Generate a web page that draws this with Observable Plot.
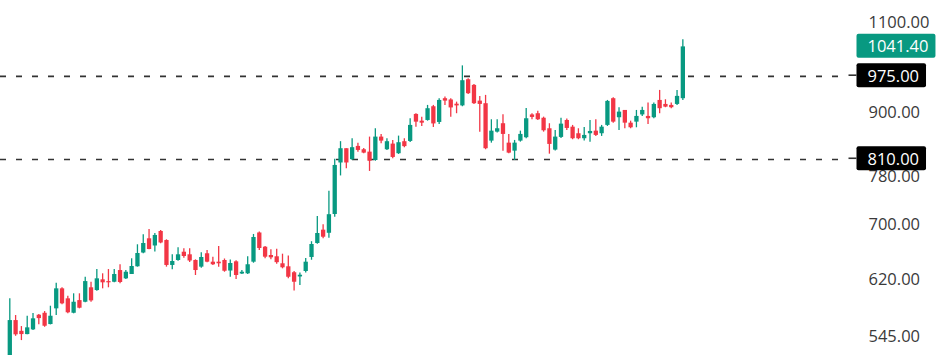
<!DOCTYPE html>
<html><head><meta charset="utf-8">
<script src="https://cdn.jsdelivr.net/npm/d3@7"></script>
<script src="https://cdn.jsdelivr.net/npm/@observablehq/plot@0.6"></script>
<style>
html,body{margin:0;padding:0;background:#fff}
#chart{width:940px;height:355px;overflow:hidden}
#chart svg{display:block}
</style>
</head><body><div id="chart"></div>
<script>
// OHLC per daily candle
const opens  = [522,565.4,552.0,548.0,553.8,572.2,574.7,560.4,580.4,606.9,593.5,574.7,591.2,589.0,608.3,604.6,619.2,616.8,615.9,632.2,620.6,626.6,637.5,657.4,678.6,667.8,689.8,676.0,639.4,646.5,658.6,654.8,646.5,637.0,656.3,644.1,644.1,646.5,631.5,644.6,627.3,627.6,644.1,687.5,666.0,653.8,651.9,641.8,637.5,629.1,623.2,630.8,650.9,671.5,691.8,687.0,716.4,803.7,829.7,809.7,834.0,827.8,823.4,808.2,851.5,827.8,838.3,820.5,842.8,843.3,895.7,882.3,883.7,911.2,879.8,927.7,925.1,916.4,912.9,967.8,955.7,922.7,917.4,843.9,861.0,877.3,840.1,825.2,843.9,850.3,894.7,897.1,888.1,867.5,827.1,850.9,883.7,870.6,857.9,848.4,857.9,862.9,857.9,874.0,927.7,889.1,903.7,878.4,880.4,894.7,891.7,889.1,924.1,915.9,913.9,915.9,927.7];
const highs  = [593.5,571.8,557.9,570.9,574.4,573.1,576.9,583.8,614.5,608.3,597.0,600.2,600.2,622.8,615.9,633.6,627.6,633.6,633.6,640.4,632.2,649.0,669.6,684.7,692.9,686.7,691.3,677.1,654.8,665.1,663.6,663.6,647.5,657.7,661.1,651.3,667.1,648.7,647.2,646.1,632.2,651.9,685.2,689.0,667.1,662.1,662.8,655.7,653.1,630.8,628.7,649.4,674.2,713.3,700.2,754.6,810.5,842.9,829.7,848.4,840.1,830.3,851.5,867.5,856.6,848.4,845.2,853.4,848.4,887.1,897.1,890.3,913.9,913.9,927.7,931.0,927.7,920.6,998.2,969.9,957.8,932.5,934.6,885.1,885.1,895.1,856.6,845.2,862.9,907.8,897.1,902.3,890.3,877.3,864.2,888.1,886.7,874.0,867.5,870.0,883.7,885.1,874.0,924.1,929.8,909.2,903.7,882.3,903.7,910.4,918.6,918.6,945.0,925.5,918.6,945.0,1058.2];
const lows   = [518,545.9,540.7,547.7,552.9,560.0,557.0,560.0,571.8,585.6,574.0,574.0,580.4,588.2,589.0,603.7,606.9,608.3,615.1,613.7,619.6,626.6,637.0,656.3,662.1,658.9,671.1,637.0,633.2,645.5,649.9,643.6,625.2,635.6,643.2,639.4,637.0,629.8,622.8,619.6,626.6,626.6,642.6,661.1,649.0,647.5,641.2,634.6,620.6,603.9,611.4,628.7,646.9,670.5,678.6,679.4,712.2,780.8,793.4,808.2,823.4,820.5,788.7,806.9,839.0,826.5,811.4,819.2,831.6,841.5,870.6,872.0,882.3,870.0,875.9,913.9,890.3,897.1,911.2,936.6,915.9,861.0,827.8,840.1,859.1,825.2,820.5,808.2,842.0,848.4,885.1,883.7,861.0,819.7,825.6,849.0,864.2,846.5,846.5,844.3,842.0,852.8,852.8,872.0,878.4,864.2,867.5,867.5,869.4,891.7,875.9,887.1,897.1,909.2,907.2,913.9,924.1];
const closes = [565.4,547.7,548.0,556.3,567.6,567.9,558.3,570.9,606.9,586.9,575.3,589.0,581.2,616.8,590.8,620.6,615.1,615.1,626.6,615.5,629.8,637.9,656.7,671.5,662.6,683.7,672.3,639.4,645.1,654.8,652.3,645.8,632.2,650.9,644.1,640.4,641.8,631.2,642.2,625.2,629.8,640.4,680.6,664.1,651.3,650.4,643.4,636.1,622.8,615.9,625.6,644.1,670.0,686.7,681.0,716.1,799.3,829.7,803.7,831.6,826.5,821.6,806.9,851.5,843.9,842.8,813.7,840.9,833.6,874.0,880.4,878.4,907.2,876.9,924.1,922.7,908.8,912.9,965.7,938.1,917.4,915.9,829.7,862.9,867.5,856.6,821.6,840.1,856.6,887.1,889.7,885.1,863.6,837.7,851.5,876.5,868.1,848.4,848.4,854.7,862.3,854.7,870.6,922.1,880.4,900.3,878.4,869.4,891.7,903.7,887.1,915.9,907.2,910.4,909.2,932.5,1041.4];

const yTicks = [545, 620, 700, 780, 900, 1100];
const levelValues = [975, 810];
const lastPrice = 1041.40;

const upColor = "#089981", downColor = "#F23645";

const candles = opens.map((o, i) => ({i, open: o, high: highs[i], low: lows[i], close: closes[i]}));
const ups = candles.filter(d => d.close >= d.open);
const downs = candles.filter(d => d.close < d.open);
const tags = [
  {value: lastPrice, bg: upColor, tick: false},
  ...levelValues.map(v => ({value: v, bg: "#000", tick: true}))
];

const chart = Plot.plot({
  width: 940, height: 355,
  marginTop: 0, marginBottom: 0, marginLeft: 0, marginRight: 92,
  style: {fontFamily: "'Open Sans', 'Noto Sans', sans-serif", fontSize: "16.5px", background: "#fff", color: "#3a3a3a", overflow: "visible"},
  x: {domain: [-1.603, 144.55], axis: null},
  y: {type: "log", domain: [523, 1155], axis: "right", ticks: yTicks, tickSize: 0, tickPadding: 20,
      tickFormat: d => d.toFixed(2), label: null},
  marks: [
    Plot.ruleY(levelValues, {stroke: "#333", strokeWidth: 1.6, strokeDasharray: "6,10"}),
    Plot.ruleX(ups,   {x: "i", y1: "low", y2: "high", stroke: upColor, strokeWidth: 1.3, clip: true}),
    Plot.ruleX(downs, {x: "i", y1: "low", y2: "high", stroke: downColor, strokeWidth: 1.3, clip: true}),
    Plot.ruleX(ups,   {x: "i", y1: "open", y2: "close", stroke: upColor, strokeWidth: 4.3, clip: true}),
    Plot.ruleX(downs, {x: "i", y1: "open", y2: "close", stroke: downColor, strokeWidth: 4.3, clip: true}),
    Plot.text(tags, {y: "value", text: d => d.value.toFixed(2), frameAnchor: "right", dx: 19,
      textAnchor: "start", fill: "#fff", fontSize: 16.5})
  ]
});
document.getElementById("chart").appendChild(chart);

// tag boxes behind the price labels
const svgNS = "http://www.w3.org/2000/svg";
const tagTexts = chart.querySelectorAll('g[aria-label="text"] text');
tagTexts.forEach((t, k) => {
  const b = t.getBBox();
  const cy = b.y + b.height / 2;
  const r = document.createElementNS(svgNS, "rect");
  r.setAttribute("x", b.x - 11);
  r.setAttribute("y", cy - 12);
  r.setAttribute("width", b.width + 18);
  r.setAttribute("height", 24);
  r.setAttribute("rx", 2);
  r.setAttribute("fill", tags[k].bg);
  if (t.getAttribute("transform")) r.setAttribute("transform", t.getAttribute("transform"));
  t.parentNode.insertBefore(r, t);
  if (tags[k].tick) {
    const l = document.createElementNS(svgNS, "line");
    l.setAttribute("x1", b.x - 19); l.setAttribute("x2", b.x - 11);
    l.setAttribute("y1", cy); l.setAttribute("y2", cy);
    l.setAttribute("stroke", "#333"); l.setAttribute("stroke-width", 1.6);
    if (t.getAttribute("transform")) l.setAttribute("transform", t.getAttribute("transform"));
    t.parentNode.insertBefore(l, t);
  }
});
</script>
</body></html>
